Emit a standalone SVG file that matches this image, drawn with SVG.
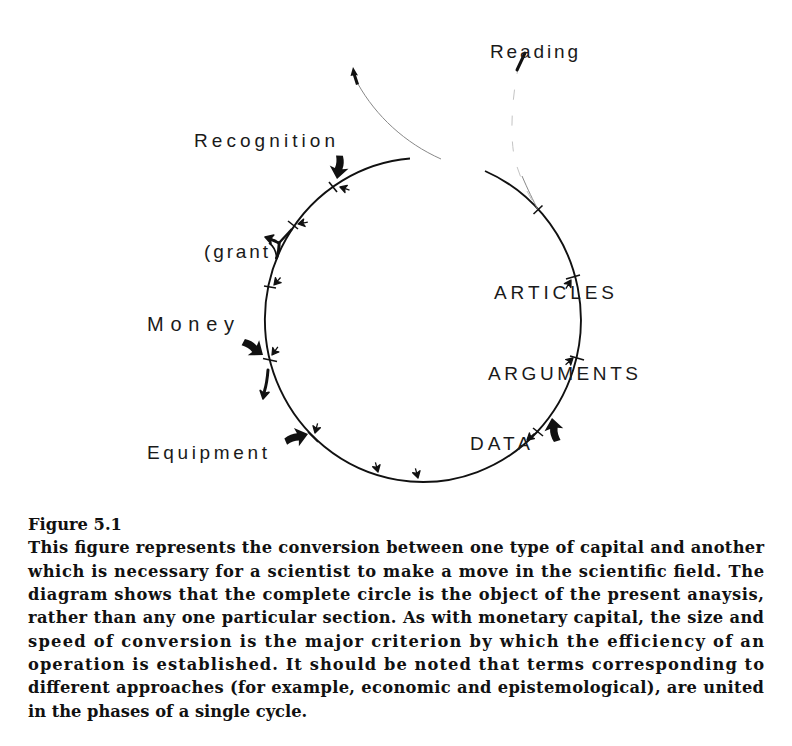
<svg xmlns="http://www.w3.org/2000/svg" width="792" height="746" viewBox="0 0 792 746">
<style>
.lbl{font-family:"Liberation Sans",Arial,sans-serif;fill:#1a1a1a;}
.cap{font-family:"DejaVu Serif","Liberation Serif",serif;font-weight:bold;font-size:16.3px;fill:#111;}
.ring{fill:none;stroke:#111;stroke-width:1.9;}
.thin{fill:none;stroke:#888;stroke-width:1;}
.faint{fill:none;stroke:#c4c4c4;stroke-width:1;}
.tick{stroke:#111;stroke-width:1.6;}
.ink{fill:#111;}
.sa{fill:#111;stroke:#111;stroke-width:1.3;stroke-linejoin:round;}
.thick{fill:none;stroke:#111;stroke-width:3;stroke-linecap:round;}
</style>
<defs>
<path id="sa" d="M0,0 L-6.5,-3.8 L-4.8,0 L-6.5,3.8 Z M-4.8,0 L-10,0"/>
<path id="ba" d="M0,0 L-12,-9.5 L-10.5,-3.6 Q-16.5,-5 -24,-1.8 L-23,5 Q-16,2.5 -10.5,4 L-12,9.5 Z"/>
</defs>
<rect width="792" height="746" fill="#fff"/>

<g id="connectors">
  <path class="ring" d="M485,171 A158,162 0 1 1 410,158.5"/>
  <path class="thin" d="M441,159 C405,143 376,116 358,84"/>
  <path class="ink" d="M353,67 L350.5,76 L353,75.5 L356,85 L359,84 L356,75 L358,75.5 Z"/>
  <path class="faint" d="M519,64 C511,100 510,140 515,160 C520,178 528,195 538,210" stroke-dasharray="10,16"/>
  <path class="thin" d="M522,176 C528,190 533,200 538,210"/>
  <path d="M525,53 L517,70" stroke="#111" stroke-width="3" stroke-linecap="round"/>
  <g id="ticks">
    <line class="tick" x1="329" y1="182" x2="337" y2="192"/>
    <line class="tick" x1="288" y1="221" x2="298" y2="229"/>
    <line class="tick" x1="264" y1="286" x2="276" y2="288"/>
    <line class="tick" x1="263" y1="358.5" x2="277" y2="361.5"/>
    <line class="tick" x1="308" y1="432" x2="318" y2="442"/>
    <line class="tick" x1="533" y1="428" x2="543" y2="436"/>
    <line class="tick" x1="570" y1="356" x2="584" y2="360"/>
    <line class="tick" x1="566" y1="279" x2="580" y2="275"/>
    <line class="tick" x1="533.5" y1="214" x2="542.5" y2="205.5"/>
  </g>
  <g id="arrows">
    <use href="#ba" class="ink" transform="translate(337,179) rotate(100)"/>
    <use href="#sa" class="sa" transform="translate(340,187) rotate(198)"/>
    <use href="#sa" class="sa" transform="translate(298,224) rotate(169)"/>
    <use href="#sa" class="sa" transform="translate(274,285) rotate(131)"/>
    <use href="#ba" class="ink" transform="translate(263,355) rotate(37)"/>
    <use href="#sa" class="sa" transform="translate(272,355) rotate(126)"/>
    <path class="thick" d="M268,370 Q267,383 264.5,391"/>
    <use href="#sa" class="sa" transform="translate(263,399) rotate(102) scale(1.2)"/>
    <use href="#ba" class="ink" transform="translate(308,434) rotate(-15)"/>
    <use href="#sa" class="sa" transform="translate(315,433) rotate(105)"/>
    <use href="#sa" class="sa" transform="translate(378,472) rotate(75)"/>
    <use href="#sa" class="sa" transform="translate(418,478) rotate(75)"/>
    <use href="#sa" class="sa" transform="translate(527,440) rotate(139)"/>
    <use href="#ba" class="ink" transform="translate(552,418) rotate(261)"/>
    <use href="#sa" class="sa" transform="translate(573,358) rotate(-42)"/>
    <use href="#sa" class="sa" transform="translate(571,280) rotate(-59)"/>
  </g>
  <g id="grant-fork">
    <path d="M292,229 L279,243" stroke="#111" stroke-width="2.5" fill="none"/>
    <path class="thick" d="M279,243 L270,239"/>
    <use href="#sa" class="sa" transform="translate(265,237) rotate(198) scale(1.2)"/>
    <path class="thick" d="M279,243 Q279.5,250 276.5,258"/>
    <path d="M269,243 Q275,247 276.5,256" stroke="#111" stroke-width="1.6" fill="none"/>
  </g>
</g>

<g id="node-reading"><text class="lbl" x="490" y="58" font-size="19" textLength="88" lengthAdjust="spacing">Reading</text></g>
<g id="node-recognition"><text class="lbl" x="194" y="147" font-size="19" textLength="141" lengthAdjust="spacing">Recognition</text></g>
<g id="node-grant"><text class="lbl" x="204" y="258" font-size="19" textLength="64" lengthAdjust="spacing">(grant</text></g>
<g id="node-money"><text class="lbl" x="147" y="331" font-size="20" textLength="87" lengthAdjust="spacing">Money</text></g>
<g id="node-equipment"><text class="lbl" x="147" y="459" font-size="19" textLength="120" lengthAdjust="spacing">Equipment</text></g>
<g id="node-articles"><text class="lbl" x="494" y="299" font-size="19" textLength="120" lengthAdjust="spacing">ARTICLES</text></g>
<g id="node-arguments"><text class="lbl" x="488" y="380" font-size="19" textLength="150" lengthAdjust="spacing">ARGUMENTS</text></g>
<g id="node-data"><text class="lbl" x="470" y="450" font-size="19" textLength="60" lengthAdjust="spacing">DATA</text></g>

<g id="caption">
<text class="cap" x="28" y="530">Figure 5.1</text>
<text class="cap" x="28" y="553" textLength="736" lengthAdjust="spacing">This figure represents the conversion between one type of capital and another</text>
<text class="cap" x="28" y="577" textLength="736" lengthAdjust="spacing">which is necessary for a scientist to make a move in the scientific field. The</text>
<text class="cap" x="28" y="600" textLength="736" lengthAdjust="spacing">diagram shows that the complete circle is the object of the present anaysis,</text>
<text class="cap" x="28" y="623" textLength="736" lengthAdjust="spacing">rather than any one particular section. As with monetary capital, the size and</text>
<text class="cap" x="28" y="647" textLength="736" lengthAdjust="spacing">speed of conversion is the major criterion by which the efficiency of an</text>
<text class="cap" x="28" y="670" textLength="736" lengthAdjust="spacing">operation is established. It should be noted that terms corresponding to</text>
<text class="cap" x="28" y="693" textLength="736" lengthAdjust="spacing">different approaches (for example, economic and epistemological), are united</text>
<text class="cap" x="28" y="717">in the phases of a single cycle.</text>
</g>
</svg>
